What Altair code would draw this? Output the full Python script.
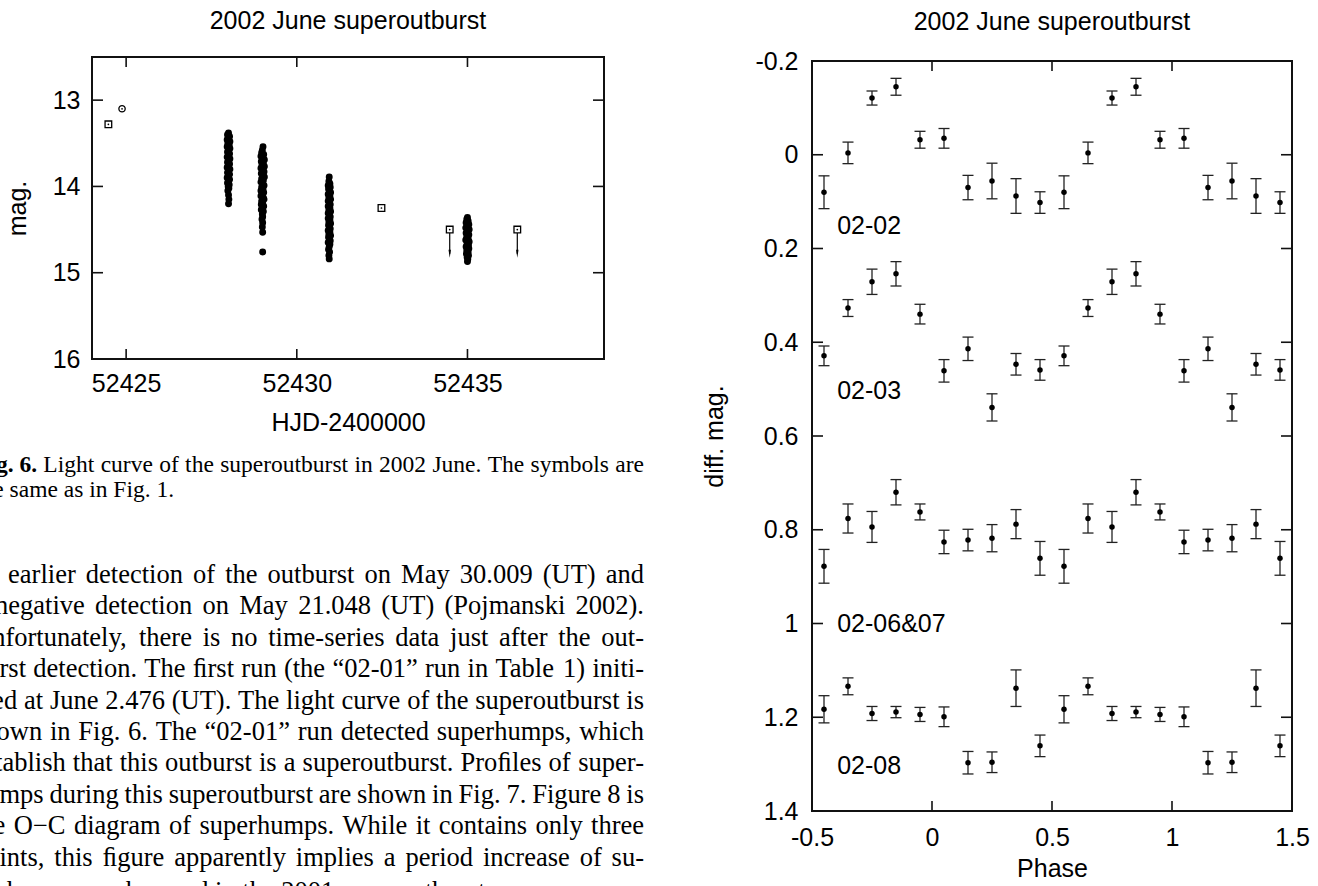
import altair as alt
import pandas as pd

SANS = "Liberation Sans"
SERIF = "Liberation Serif"
INK = "#111111"

# ---------------- Left panel: 2002 June light curve ----------------
run1_hjd = [52428.00, 52427.97, 52428.03, 52428.00, 52427.96, 52428.04, 52427.98, 52428.02,
            52427.96, 52428.04, 52428.00, 52427.97, 52428.03, 52427.99, 52427.96, 52428.04,
            52428.01, 52427.97, 52428.03, 52427.99, 52427.96, 52428.04, 52428.00, 52427.97,
            52428.03, 52427.99, 52427.96, 52428.03, 52428.00, 52427.97, 52428.02, 52427.99,
            52428.01, 52427.98, 52428.00, 52428.01, 52428.00]
run1_mag = [13.38, 13.40, 13.42, 13.44, 13.46, 13.48, 13.50, 13.52,
            13.54, 13.56, 13.58, 13.60, 13.62, 13.64, 13.66, 13.68,
            13.70, 13.72, 13.74, 13.76, 13.78, 13.80, 13.82, 13.84,
            13.86, 13.88, 13.90, 13.92, 13.94, 13.96, 13.98, 14.00,
            14.02, 14.05, 14.10, 14.15, 14.20]

run2_hjd = [52429.01, 52428.99, 52428.97, 52429.03, 52428.95, 52429.01, 52429.05, 52428.96,
            52429.02, 52428.98, 52429.05, 52428.95, 52429.00, 52429.04, 52428.96, 52429.01,
            52429.05, 52428.97, 52429.02, 52428.95, 52429.00, 52429.04, 52428.97, 52429.01,
            52428.95, 52429.03, 52428.98, 52428.95, 52429.02, 52429.04, 52428.97, 52429.00,
            52428.96, 52429.03, 52428.99, 52428.96, 52429.02, 52428.99, 52429.00, 52428.98,
            52429.00, 52428.99, 52429.00, 52429.00]
run2_mag = [13.54, 13.58, 13.61, 13.63, 13.65, 13.67, 13.69, 13.71,
            13.73, 13.75, 13.77, 13.79, 13.81, 13.83, 13.85, 13.87,
            13.89, 13.91, 13.93, 13.95, 13.97, 13.99, 14.01, 14.03,
            14.05, 14.07, 14.09, 14.11, 14.13, 14.15, 14.17, 14.19,
            14.21, 14.23, 14.25, 14.27, 14.29, 14.32, 14.35, 14.38,
            14.42, 14.47, 14.53, 14.76]

run3_hjd = [52430.95, 52430.94, 52430.97, 52430.92, 52430.98, 52430.93, 52430.96, 52430.99,
            52430.92, 52430.97, 52430.94, 52430.99, 52430.92, 52430.96, 52430.98, 52430.92,
            52430.97, 52430.94, 52430.99, 52430.92, 52430.96, 52430.98, 52430.92, 52430.97,
            52430.94, 52430.99, 52430.93, 52430.96, 52430.98, 52430.92, 52430.97, 52430.94,
            52430.99, 52430.93, 52430.96, 52430.98, 52430.92, 52430.97, 52430.95, 52430.93,
            52430.96, 52430.94, 52430.95]
run3_mag = [13.89, 13.94, 13.97, 13.99, 14.01, 14.03, 14.05, 14.07,
            14.09, 14.11, 14.13, 14.15, 14.17, 14.19, 14.21, 14.23,
            14.25, 14.27, 14.29, 14.31, 14.33, 14.35, 14.37, 14.39,
            14.41, 14.43, 14.45, 14.47, 14.49, 14.51, 14.53, 14.55,
            14.57, 14.59, 14.61, 14.63, 14.65, 14.67, 14.70, 14.73,
            14.76, 14.80, 14.84]

run4_hjd = [52435.00, 52434.98, 52435.02, 52434.96, 52435.04, 52434.99, 52434.95, 52435.05,
            52435.01, 52434.96, 52435.04, 52434.98, 52435.02, 52434.95, 52435.05, 52434.99,
            52435.03, 52434.96, 52435.04, 52434.98, 52435.02, 52434.97, 52435.03, 52434.99,
            52435.01, 52435.00]
run4_mag = [14.36, 14.38, 14.40, 14.42, 14.44, 14.46, 14.48, 14.50,
            14.52, 14.54, 14.56, 14.58, 14.60, 14.62, 14.64, 14.66,
            14.68, 14.70, 14.72, 14.74, 14.76, 14.78, 14.80, 14.82,
            14.84, 14.87]

square_hjd = [52424.48, 52432.48, 52434.48, 52436.46]
square_mag = [13.28, 14.25, 14.50, 14.50]
circle_hjd = [52424.88]
circle_mag = [13.10]
limit_hjd = [52434.48, 52436.46]
limit_top = [14.54, 14.54]
limit_head = [14.78, 14.78]

lc_xdomain = [52424, 52439]
lc_ydomain = [12.5, 16]
lc_xticks = [52425, 52430, 52435]
lc_yticks = [13, 14, 15, 16]

# ---------------- Right panel: superhump profiles ----------------
phase = [-0.45, -0.35, -0.25, -0.15, -0.05, 0.05, 0.15, 0.25, 0.35, 0.45,
         0.55, 0.65, 0.75, 0.85, 0.95, 1.05, 1.15, 1.25, 1.35, 1.45]
prof_0202 = [0.080, -0.004, -0.121, -0.145, -0.032, -0.035, 0.070, 0.056, 0.088, 0.102,
             0.080, -0.004, -0.121, -0.145, -0.032, -0.035, 0.070, 0.056, 0.088, 0.102]
err_0202 = [0.035, 0.023, 0.015, 0.018, 0.018, 0.021, 0.026, 0.038, 0.037, 0.023,
            0.035, 0.023, 0.015, 0.018, 0.018, 0.021, 0.026, 0.038, 0.037, 0.023]
prof_0203 = [0.429, 0.327, 0.271, 0.254, 0.340, 0.461, 0.414, 0.539, 0.447, 0.459,
             0.429, 0.327, 0.271, 0.254, 0.340, 0.461, 0.414, 0.539, 0.447, 0.459]
err_0203 = [0.021, 0.018, 0.027, 0.026, 0.021, 0.024, 0.025, 0.029, 0.023, 0.022,
            0.021, 0.018, 0.027, 0.026, 0.021, 0.024, 0.025, 0.029, 0.023, 0.022]
prof_0206 = [0.878, 0.776, 0.794, 0.720, 0.762, 0.826, 0.822, 0.818, 0.788, 0.861,
             0.878, 0.776, 0.794, 0.720, 0.762, 0.826, 0.822, 0.818, 0.788, 0.861]
err_0206 = [0.036, 0.031, 0.033, 0.027, 0.017, 0.025, 0.023, 0.029, 0.031, 0.036,
            0.036, 0.031, 0.033, 0.027, 0.017, 0.025, 0.023, 0.029, 0.031, 0.036]
prof_0208 = [1.183, 1.134, 1.192, 1.189, 1.194, 1.199, 1.297, 1.296, 1.138, 1.261,
             1.183, 1.134, 1.192, 1.189, 1.194, 1.199, 1.297, 1.296, 1.138, 1.261]
err_0208 = [0.029, 0.018, 0.015, 0.012, 0.015, 0.021, 0.024, 0.022, 0.039, 0.023,
            0.029, 0.018, 0.015, 0.012, 0.015, 0.021, 0.024, 0.022, 0.039, 0.023]

run_names = ["02-02", "02-03", "02-06&07", "02-08"]
run_label_mag = [0.152, 0.503, 1.002, 1.303]
run_label_phase = [-0.395, -0.395, -0.395, -0.395]

ph_xdomain = [-0.5, 1.5]
ph_ydomain = [-0.2, 1.4]
ph_xticks = [-0.5, 0, 0.5, 1, 1.5]
ph_yticks = [-0.2, 0, 0.2, 0.4, 0.6, 0.8, 1.0, 1.2, 1.4]

# ---------------- Page text ----------------
title_text = "2002 June superoutburst"
caption_bold = "Fig. 6."
caption_lines = ["Light curve of the superoutburst in 2002 June. The symbols are",
                 "the same as in Fig. 1."]
body_lines = [
    "an earlier detection of the outburst on May 30.009 (UT) and",
    "a negative detection on May 21.048 (UT) (Pojmanski 2002).",
    "Unfortunately, there is no time-series data just after the out-",
    "burst detection. The \ufb01rst run (the \u201c02-01\u201d run in Table 1) initi-",
    "ated at June 2.476 (UT). The light curve of the superoutburst is",
    "shown in Fig. 6. The \u201c02-01\u201d run detected superhumps, which",
    "establish that this outburst is a superoutburst. Pro\ufb01les of super-",
    "humps during this superoutburst are shown in Fig. 7. Figure 8 is",
    "the O\u2212C diagram of superhumps. While it contains only three",
    "points, this \ufb01gure apparently implies a period increase of su-",
    "perhumps as observed in the 2001 superoutburst.",
]

# ---------------- geometry (pixels) ----------------
A_W, A_H = 512, 302          # light-curve plot area (origin at page x 92, y 57)
B_W, B_H = 480, 754          # phase plot area (frame starts 4 px below the top)
B_TOP = 4
TICK = 11
ORIGIN_X, ORIGIN_Y = 92, 57
BODY_L, CAP_L, COL_R = -27, -25, 644   # text column edges on the page
BODY_SIZE, CAP_SIZE = 26.5, 23.5

# Times/Liberation Serif advance widths (per 1000 em) used to justify the text column
_W = {" ": 250, ",": 250, ".": 250, "-": 333, "(": 333, ")": 333, ":": 278, ";": 278,
      "\u201c": 444, "\u201d": 444, "\u2212": 564, "\ufb01": 556, "&": 778}
for _c in "0123456789":
    _W[_c] = 500
_W.update(dict(zip("ABCDEFGHIJKLMNOPQRSTUVWXYZ",
                   [722, 667, 667, 722, 611, 556, 722, 722, 333, 389, 722, 611, 889,
                    722, 722, 556, 722, 667, 556, 611, 722, 722, 944, 722, 722, 611])))
_W.update(dict(zip("abcdefghijklmnopqrstuvwxyz",
                   [444, 500, 444, 500, 444, 333, 500, 500, 278, 278, 500, 278, 778,
                    500, 500, 500, 500, 333, 389, 278, 500, 500, 722, 500, 500, 444])))
_WB = dict(_W)
_WB.update({"F": 611, "g": 500, "i": 278, "6": 500, ".": 250, " ": 250})


def text_width(s, size, table):
    return sum(table.get(ch, 500) for ch in s) * size / 1000.0


one = pd.DataFrame({"k": [0]})


def word_layer(word, px, py, size, weight="normal", align="left"):
    return alt.Chart(one).mark_text(
        text=word, font=SERIF, fontSize=size, fontWeight=weight, align=align,
        baseline="alphabetic", color="black").encode(
        x=alt.value(px - ORIGIN_X), y=alt.value(py - ORIGIN_Y))


def justified(words, weights, left_edge, py, size):
    widths = [text_width(w, size, _WB if wt == "bold" else _W) for w, wt in zip(words, weights)]
    gap = (COL_R - left_edge - sum(widths)) / (len(words) - 1)
    out, x = [], left_edge
    for k, (w, wt) in enumerate(zip(words, weights)):
        if k == len(words) - 1:
            out.append(word_layer(w, COL_R, py, size, wt, align="right"))
        else:
            out.append(word_layer(w, x, py, size, wt))
        x += widths[k] + gap
    return out


texts = []
cap_words = [caption_bold] + caption_lines[0].split(" ")
texts += justified(cap_words, ["bold"] + ["normal"] * (len(cap_words) - 1), CAP_L, 472,
                   CAP_SIZE)
texts.append(word_layer(caption_lines[1], CAP_L, 497, CAP_SIZE))
for i, line in enumerate(body_lines):
    if i < len(body_lines) - 1:
        ws = line.split(" ")
        texts += justified(ws, ["normal"] * len(ws), BODY_L, 583 + 31.4 * i, BODY_SIZE)
    else:
        texts.append(word_layer(line, BODY_L, 900, BODY_SIZE))

axis_common = dict(labelFont=SANS, labelFontSize=25, labelColor="black",
                   titleFont=SANS, titleFontSize=25, titleFontWeight="normal",
                   titleColor="black", domain=False, ticks=False, tickSize=0,
                   grid=False, labelFlush=False, labelOverlap=False)

# ====================== LEFT CHART ======================
xsA = alt.Scale(domain=lc_xdomain, nice=False, zero=False)
ysA = alt.Scale(domain=lc_ydomain, reverse=True, nice=False, zero=False)
axA_x = alt.Axis(values=lc_xticks, format="d", title="HJD-2400000", labelPadding=12,
                 titleX=A_W / 2, titleY=71, titleBaseline="alphabetic", titleAlign="center",
                 **axis_common)
axA_y = alt.Axis(values=lc_yticks, format="d", title="mag.", labelPadding=12,
                 titleX=-67, titleY=A_H / 2, titleAngle=270, titleBaseline="alphabetic",
                 titleAlign="center", **axis_common)


def XA(f):
    return alt.X(f, scale=xsA, axis=axA_x)


def YA(f):
    return alt.Y(f, scale=ysA, axis=axA_y)


frameA = alt.Chart(pd.DataFrame({"x0": [lc_xdomain[0]], "x1": [lc_xdomain[1]],
                                 "y0": [lc_ydomain[0]], "y1": [lc_ydomain[1]]})).mark_rect(
    fillOpacity=0, stroke=INK, strokeWidth=2).encode(
    x=XA("x0:Q"), x2="x1:Q", y=YA("y0:Q"), y2="y1:Q")

yt_A = pd.DataFrame({"v": lc_yticks[:-1]})
xt_A = pd.DataFrame({"v": lc_xticks})
ticksA = [
    alt.Chart(yt_A).mark_rule(color=INK, strokeWidth=1.6).encode(
        y=YA("v:Q"), x=alt.value(0), x2=alt.value(TICK)),
    alt.Chart(yt_A).mark_rule(color=INK, strokeWidth=1.6).encode(
        y=YA("v:Q"), x=alt.value(A_W - TICK), x2=alt.value(A_W)),
    alt.Chart(xt_A).mark_rule(color=INK, strokeWidth=1.6).encode(
        x=XA("v:Q"), y=alt.value(0), y2=alt.value(10)),
    alt.Chart(xt_A).mark_rule(color=INK, strokeWidth=1.6).encode(
        x=XA("v:Q"), y=alt.value(A_H - 10), y2=alt.value(A_H)),
]

runs_df = pd.DataFrame({"hjd": run1_hjd + run2_hjd + run3_hjd + run4_hjd,
                        "mag": run1_mag + run2_mag + run3_mag + run4_mag})
runsA = alt.Chart(runs_df).mark_point(filled=True, shape="circle", size=48, color="black",
                                      opacity=1, strokeWidth=0).encode(
    x=XA("hjd:Q"), y=YA("mag:Q"))

sq_df = pd.DataFrame({"hjd": square_hjd, "mag": square_mag})
ci_df = pd.DataFrame({"hjd": circle_hjd, "mag": circle_mag})
squaresA = alt.Chart(sq_df).mark_point(shape="square", size=44, filled=False, color="black",
                                       strokeWidth=1.3, opacity=1).encode(
    x=XA("hjd:Q"), y=YA("mag:Q"))
circlesA = alt.Chart(ci_df).mark_point(shape="circle", size=40, filled=False, color="black",
                                       strokeWidth=1.3, opacity=1).encode(
    x=XA("hjd:Q"), y=YA("mag:Q"))
centersA = alt.Chart(pd.concat([sq_df, ci_df])).mark_point(
    shape="circle", size=3, filled=True, color="black", opacity=1).encode(
    x=XA("hjd:Q"), y=YA("mag:Q"))

lim_df = pd.DataFrame({"hjd": limit_hjd, "top": limit_top, "head": limit_head})
arrowsA = alt.Chart(lim_df).mark_rule(color="black", strokeWidth=1.2).encode(
    x=XA("hjd:Q"), y=YA("top:Q"), y2="head:Q")
headsA = alt.Chart(lim_df).mark_point(shape="M-0.3,-1L0,1L0.3,-1Z", size=64, filled=True,
                                      color="black", opacity=1).encode(
    x=XA("hjd:Q"), y=YA("head:Q"))

# invisible anchor fixing the left column's right extent for the concat layout
anchorA = alt.Chart(one).mark_rule(opacity=0, strokeOpacity=0).encode(
    x=alt.value(590), y=alt.value(0), y2=alt.value(1))

left = alt.layer(frameA, *ticksA, runsA, squaresA, circlesA, centersA, arrowsA, headsA,
                 *texts, anchorA).properties(
    width=A_W, height=A_H,
    title=alt.TitleParams(title_text, font=SANS, fontSize=25, fontWeight="normal",
                          color="black", frame="group", anchor="middle", offset=2,
                          baseline="alphabetic"))

# ====================== RIGHT CHART ======================
xsB = alt.Scale(domain=ph_xdomain, nice=False, zero=False)
ysB = alt.Scale(domain=ph_ydomain, range=[B_TOP, B_H], nice=False, zero=False)
minus_fix = "replace(datum.label, '\u2212', '-')"
axB_x = alt.Axis(values=ph_xticks, format="~g", labelExpr=minus_fix, title="Phase",
                 labelPadding=14, titleX=B_W / 2, titleY=65, titleBaseline="alphabetic",
                 titleAlign="center", **axis_common)
axB_y = alt.Axis(values=ph_yticks, format="~g", labelExpr=minus_fix, title="diff. mag.",
                 labelPadding=14, titleX=-90, titleY=(B_TOP + B_H) / 2, titleAngle=270,
                 titleBaseline="alphabetic", titleAlign="center", **axis_common)


def XB(f):
    return alt.X(f, scale=xsB, axis=axB_x)


def YB(f):
    return alt.Y(f, scale=ysB, axis=axB_y)


frameB = alt.Chart(pd.DataFrame({"x0": [ph_xdomain[0]], "x1": [ph_xdomain[1]],
                                 "y0": [ph_ydomain[0]], "y1": [ph_ydomain[1]]})).mark_rect(
    fillOpacity=0, stroke=INK, strokeWidth=2).encode(
    x=XB("x0:Q"), x2="x1:Q", y=YB("y0:Q"), y2="y1:Q")

yt_B = pd.DataFrame({"v": ph_yticks})
xt_B = pd.DataFrame({"v": ph_xticks})
ticksB = [
    alt.Chart(yt_B).mark_rule(color=INK, strokeWidth=1.6).encode(
        y=YB("v:Q"), x=alt.value(0), x2=alt.value(TICK)),
    alt.Chart(yt_B).mark_rule(color=INK, strokeWidth=1.6).encode(
        y=YB("v:Q"), x=alt.value(B_W - TICK), x2=alt.value(B_W)),
    alt.Chart(xt_B).mark_rule(color=INK, strokeWidth=1.6).encode(
        x=XB("v:Q"), y=alt.value(B_TOP), y2=alt.value(B_TOP + 10)),
    alt.Chart(xt_B).mark_rule(color=INK, strokeWidth=1.6).encode(
        x=XB("v:Q"), y=alt.value(B_H - 10), y2=alt.value(B_H)),
]

prof_df = pd.DataFrame({
    "run": [run_names[0]] * 20 + [run_names[1]] * 20 + [run_names[2]] * 20 + [run_names[3]] * 20,
    "phase": phase * 4,
    "mag": prof_0202 + prof_0203 + prof_0206 + prof_0208,
    "err": err_0202 + err_0203 + err_0206 + err_0208,
})
prof_df["lo"] = prof_df["mag"] - prof_df["err"]
prof_df["hi"] = prof_df["mag"] + prof_df["err"]

barsB = alt.Chart(prof_df).mark_rule(color="#222222", strokeWidth=1.3).encode(
    x=XB("phase:Q"), y=YB("lo:Q"), y2="hi:Q")
capLoB = alt.Chart(prof_df).mark_point(shape="M-1,0L1,0", size=121, filled=False,
                                       color="#222222", strokeWidth=1.3, opacity=1).encode(
    x=XB("phase:Q"), y=YB("lo:Q"))
capHiB = alt.Chart(prof_df).mark_point(shape="M-1,0L1,0", size=121, filled=False,
                                       color="#222222", strokeWidth=1.3, opacity=1).encode(
    x=XB("phase:Q"), y=YB("hi:Q"))
dotsB = alt.Chart(prof_df).mark_point(shape="circle", size=30, filled=True, color="black",
                                      opacity=1).encode(
    x=XB("phase:Q"), y=YB("mag:Q"))
labelsB = alt.Chart(pd.DataFrame({"name": run_names, "ph": run_label_phase,
                                  "m": run_label_mag})).mark_text(
    font=SANS, fontSize=25, align="left", baseline="middle", color="black").encode(
    x=XB("ph:Q"), y=YB("m:Q"), text="name:N")

anchorB = alt.Chart(one).mark_rule(opacity=0, strokeOpacity=0).encode(
    x=alt.value(-120), y=alt.value(0), y2=alt.value(1))

right = alt.layer(frameB, *ticksB, barsB, capLoB, capHiB, dotsB, labelsB, anchorB).properties(
    width=B_W, height=B_H,
    title=alt.TitleParams(title_text, font=SANS, fontSize=25, fontWeight="normal",
                          color="black", frame="group", anchor="middle", offset=-6,
                          baseline="alphabetic"))

chart = alt.hconcat(left, right, spacing=8).properties(
    autosize=alt.AutoSizeParams(type="none"),
    padding={"left": ORIGIN_X, "top": ORIGIN_Y, "right": 1318 - ORIGIN_X,
             "bottom": 886 - ORIGIN_Y},
    background="white",
).configure_view(stroke="transparent")

chart.save("out.html", embed_options={"renderer": "svg", "actions": False})
